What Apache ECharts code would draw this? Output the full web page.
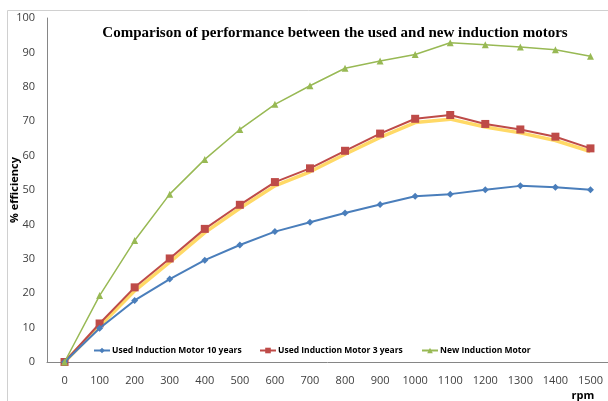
<!DOCTYPE html>
<html>
<head>
<meta charset="utf-8">
<script src="https://cdn.jsdelivr.net/npm/echarts@6/dist/echarts.min.js"></script>
<style>
  html, body { margin: 0; padding: 0; background: #fff; }
  #chart { width: 608px; height: 401px; }
</style>
</head>
<body>
<div id="chart"></div>
<script>
// Motor speed categories (rpm)
const rpm = ['0', '100', '200', '300', '400', '500', '600', '700', '800', '900', '1000', '1100', '1200', '1300', '1400', '1500'];

// Efficiency (%) per motor
const used10 = [0, 9.8, 17.9, 24.1, 29.6, 34.0, 37.9, 40.6, 43.3, 45.8, 48.2, 48.8, 50.1, 51.2, 50.8, 50.1];
const used3 = [0, 11.2, 21.7, 30.1, 38.7, 45.7, 52.3, 56.3, 61.4, 66.4, 70.7, 71.8, 69.2, 67.6, 65.5, 62.1];
const used3Band = [0, 10.4, 20.7, 29.0, 37.6, 44.7, 51.2, 55.3, 60.4, 65.3, 69.6, 70.6, 68.3, 66.6, 64.4, 61.2];
const newMotor = [0, 19.3, 35.3, 48.8, 58.9, 67.6, 74.9, 80.3, 85.4, 87.5, 89.4, 92.8, 92.2, 91.6, 90.8, 88.9];

const yTicks = { min: 0, max: 100, step: 10 };

const names = ['Used Induction Motor 10 years', 'Used Induction Motor 3 years', 'New Induction Motor'];
const colors = { blue: '#4A7EBB', red: '#BE4B48', green: '#98B954', yellow: '#FFD966' };

const chart = echarts.init(document.getElementById('chart'), null, { renderer: 'canvas' });

const legendText = { fontFamily: 'Open Sans', fontSize: 8.5, fontWeight: 'bold', color: '#000', padding: [0, 0, 0, -3] };
function legendAt(left, name) {
  return {
    left: left, top: 346, itemWidth: 16, itemHeight: 7, itemGap: 0,
    padding: 0, textStyle: legendText, data: [name], selectedMode: false
  };
}

chart.setOption({
  animation: false,
  backgroundColor: '#fff',
  title: {
    text: 'Comparison of performance between the used and new induction motors',
    left: 330, top: 21, textAlign: 'center',
    textStyle: { fontFamily: 'Liberation Serif', fontSize: 15, fontWeight: 'bold', color: '#000' }
  },
  legend: [legendAt(93, names[0]), legendAt(259, names[1]), legendAt(421, names[2])],
  grid: { left: 47, top: 18, right: -3, bottom: 39, containLabel: false },
  xAxis: {
    type: 'category', data: rpm, boundaryGap: true,
    axisLine: { lineStyle: { color: '#868686', width: 1 } },
    axisTick: { show: false },
    axisLabel: { color: '#404040', fontFamily: 'Open Sans', fontSize: 11, margin: 13, interval: 0 },
    splitLine: { show: false }
  },
  yAxis: {
    type: 'value', min: yTicks.min, max: yTicks.max, interval: yTicks.step,
    axisLine: { show: true, lineStyle: { color: '#868686', width: 1 } },
    axisTick: { show: false },
    axisLabel: { color: '#404040', fontFamily: 'Open Sans', fontSize: 11, margin: 12 },
    splitLine: { show: false }
  },
  graphic: [
    { type: 'polyline', shape: { points: [[7.5, 420], [7.5, 10.5], [620, 10.5]] },
      style: { stroke: '#D0D0D0', lineWidth: 1, fill: null }, silent: true },
    { type: 'text', x: 15, y: 190, rotation: Math.PI / 2,
      style: { text: '% efficiency', fontFamily: 'Open Sans', fontSize: 11, fontWeight: 'bold', fill: '#000',
               align: 'center', verticalAlign: 'middle' } },
    { type: 'text', x: 583, y: 396,
      style: { text: 'rpm', fontFamily: 'Open Sans', fontSize: 11, fontWeight: 'bold', fill: '#000',
               align: 'center', verticalAlign: 'middle' } }
  ],
  series: [
    { name: 'band', type: 'line', data: used3Band, symbol: 'none', z: 1,
      lineStyle: { color: colors.yellow, width: 3.5 }, itemStyle: { color: colors.yellow } },
    { name: names[0], type: 'line', data: used10, symbol: 'diamond', symbolSize: 7, z: 3,
      lineStyle: { color: colors.blue, width: 2 }, itemStyle: { color: colors.blue } },
    { name: names[1], type: 'line', data: used3, symbol: 'rect', symbolSize: 8, z: 2,
      lineStyle: { color: colors.red, width: 2 }, itemStyle: { color: colors.red } },
    { name: names[2], type: 'line', data: newMotor, symbol: 'triangle', symbolSize: 7, z: 4,
      lineStyle: { color: colors.green, width: 1.5 }, itemStyle: { color: colors.green } }
  ]
});
</script>
</body>
</html>
